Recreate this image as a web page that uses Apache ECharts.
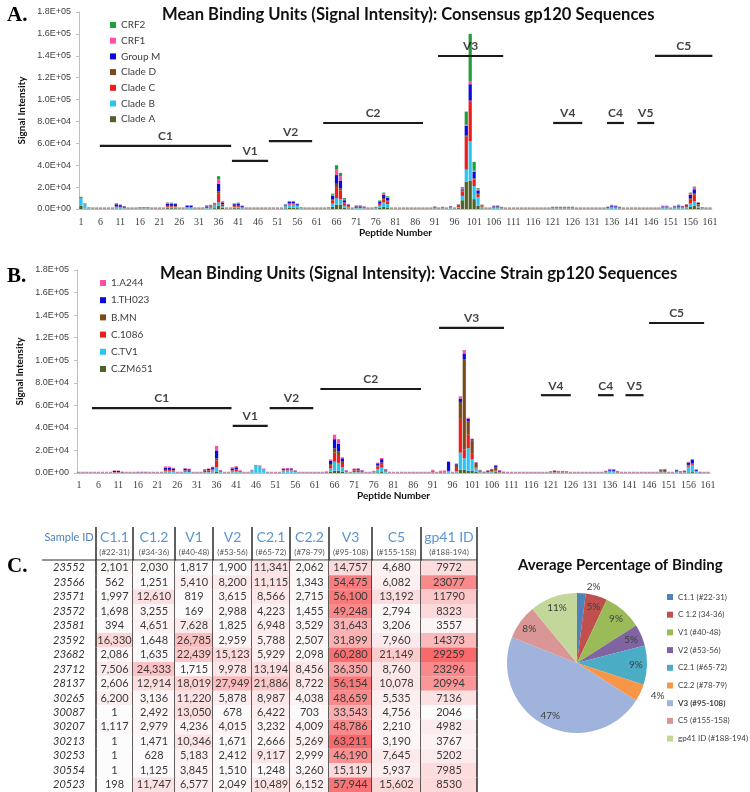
<!DOCTYPE html>
<html>
<head>
<meta charset="utf-8">
<script src="https://cdn.jsdelivr.net/npm/echarts@6/dist/echarts.min.js"></script>
<style>html,body{margin:0;padding:0;background:#fff;}#main{width:750px;height:792px;}</style>
</head>
<body>
<div id="main"></div>
<script>
// ---------- DATA ----------
const peptides = Array.from({length:161},(_,i)=>String(i+1));
// Panel A (values in thousands of signal units)
const cladeA = [3,0.3,0.2,0.2,0.2,0.2,0.2,0.2,0.2,0.5, 0.5,0.3,0.2,0.2,0.2,0.3,0.3,0.3,0.2,0.2, 0.2,0.2,0.8,0.8,0.7,0.2,0.2,0.5,0.5,0.2, 0.2,0.2,0.4,0.5,0.8,3,1,0.2,0.2,0.8, 0.8,0.5,0.2,0.2,0.2,0.2,0.2,0.2,0.2,0.2, 0.2,0.2,0.6,1,1,0.8,0.3,0.2,0.2,0.2, 0.2,0.2,0.2,0.3,2,4,4,1,0.6,0.2, 0.4,0.4,0.3,0.2,0.2,0.3,1,2,1.5,0.2, 0.2,0.2,0.2,0.2,0.2,0.2,0.2,0.2,0.2,0.2, 0.3,0.2,0.3,0.2,0.4,0.2,0.8,8,25,26, 9,3,0.6,0.2,0.2,0.4,0.4,0.3,0.2,0.2, 0.2,0.2,0.2,0.2,0.2,0.2,0.2,0.2,0.2,0.2, 0.3,0.3,0.3,0.3,0.3,0.3,0.2,0.2,0.2,0.2, 0.2,0.2,0.2,0.2,0.3,0.5,0.4,0.3,0.2,0.2, 0.2,0.2,0.2,0.2,0.2,0.2,0.2,0.2,0.4,0.4, 0.2,0.4,0.5,0.4,0.6,2,3,1,0.3,0.2, 0.2];
const cladeB = [7,4,0.5,0.3,0.3,0.3,0.3,0.3,0.3,1, 0.8,0.5,0.3,0.3,0.3,0.4,0.4,0.4,0.3,0.3, 0.3,0.3,1,1,1,0.3,0.3,0.6,0.6,0.3, 0.3,0.3,0.5,0.8,3,3,1.5,0.3,0.3,1, 1,0.6,0.3,0.3,0.3,0.3,0.3,0.3,0.3,0.3, 0.3,0.3,2,3,3,2,0.5,0.3,0.3,0.3, 0.3,0.3,0.3,0.4,3,6,5,2,1,0.3, 0.5,0.5,0.4,0.3,0.3,0.5,2,4,3,0.3, 0.3,0.3,0.3,0.3,0.3,0.3,0.3,0.3,0.3,0.3, 0.4,0.3,0.4,0.3,0.6,0.3,1,4,11,36, 12,8,1,0.3,0.3,0.6,0.6,0.4,0.3,0.3, 0.3,0.3,0.3,0.3,0.3,0.3,0.3,0.3,0.3,0.3, 0.4,0.4,0.4,0.4,0.4,0.4,0.3,0.3,0.3,0.3, 0.3,0.3,0.3,0.3,0.5,0.8,0.6,0.4,0.3,0.3, 0.3,0.3,0.3,0.3,0.3,0.3,0.3,0.3,0.6,0.6, 0.3,0.6,0.8,0.6,1,3,4,1.5,0.4,0.3, 0.3];
const cladeC = [0.3,0.2,0.2,0.2,0.2,0.2,0.2,0.2,0.2,0.5, 0.4,0.3,0.2,0.2,0.2,0.3,0.3,0.3,0.2,0.2, 0.2,0.2,0.7,0.7,0.6,0.2,0.2,0.4,0.4,0.2, 0.2,0.2,1,1,0.4,8,1.5,0.2,0.2,0.7, 0.8,0.5,0.2,0.2,0.2,0.2,0.2,0.2,0.2,0.2, 0.2,0.2,0.5,0.8,0.8,0.6,0.2,0.2,0.2,0.2, 0.2,0.2,0.2,0.3,3,10,8,2,1,0.2, 1.2,1.2,0.8,0.2,0.2,0.4,1.5,3,2.5,0.2, 0.2,0.2,0.2,0.2,0.2,0.2,0.2,0.2,0.2,0.2, 0.6,0.2,0.5,0.2,0.5,0.2,1,4,30,36, 6,2,0.8,0.2,0.2,0.5,0.5,0.4,0.2,0.2, 0.2,0.2,0.2,0.2,0.2,0.2,0.2,0.2,0.2,0.2, 0.3,0.3,0.3,0.3,0.3,0.3,0.2,0.2,0.2,0.2, 0.2,0.2,0.2,0.2,0.3,0.5,0.4,0.3,0.2,0.2, 0.2,0.2,0.2,0.2,0.2,0.2,0.2,0.2,0.5,0.5, 0.2,0.5,0.6,0.5,1,4,6,1.5,0.3,0.2, 0.2];
const cladeD = [0.3,0.2,0.2,0.2,0.2,0.2,0.2,0.2,0.2,0.3, 0.3,0.2,0.2,0.2,0.2,0.2,0.2,0.2,0.2,0.2, 0.2,0.2,0.4,0.4,0.4,0.2,0.2,0.3,0.3,0.2, 0.2,0.2,0.3,0.3,0.3,2,0.5,0.2,0.2,0.4, 0.4,0.3,0.2,0.2,0.2,0.2,0.2,0.2,0.2,0.2, 0.2,0.2,0.3,0.4,0.4,0.3,0.2,0.2,0.2,0.2, 0.2,0.2,0.2,0.2,1,3,2,1,0.4,0.2, 0.3,0.3,0.2,0.2,0.2,0.2,0.5,1,0.8,0.2, 0.2,0.2,0.2,0.2,0.2,0.2,0.2,0.2,0.2,0.2, 0.3,0.2,0.2,0.2,0.3,0.2,0.5,1,1,1, 1,1,0.5,0.2,0.2,0.6,0.8,0.3,0.2,0.2, 0.2,0.2,0.2,0.2,0.2,0.2,0.2,0.2,0.2,0.2, 0.2,0.2,0.2,0.2,0.2,0.2,0.2,0.2,0.2,0.2, 0.2,0.2,0.2,0.2,0.2,0.3,0.3,0.2,0.2,0.2, 0.2,0.2,0.2,0.2,0.2,0.2,0.2,0.2,0.3,0.3, 0.2,0.3,0.3,0.3,0.4,1,1,0.5,0.2,0.2, 0.2];
const groupM = [0.3,0.2,0.2,0.2,0.2,0.2,0.2,0.2,0.2,2, 1.5,1,0.2,0.2,0.2,0.3,0.3,0.3,0.2,0.2, 0.2,0.2,2,2,1.8,0.2,0.2,1.2,1.2,0.2, 0.2,0.2,0.5,0.6,0.6,7,1.5,0.2,0.2,1.5, 2,0.8,0.2,0.2,0.2,0.2,0.2,0.2,0.2,0.2, 0.2,0.2,0.6,1.5,1.5,0.8,0.2,0.2,0.2,0.2, 0.2,0.2,0.2,0.2,3,8,7,2,1,0.2, 0.4,0.4,0.3,0.2,0.2,0.3,2,3,2.5,0.2, 0.2,0.2,0.2,0.2,0.2,0.2,0.2,0.2,0.2,0.2, 0.3,0.2,0.3,0.2,0.5,0.2,0.5,1,9,15, 6,3,0.5,0.2,0.2,0.5,0.5,0.3,0.2,0.2, 0.2,0.2,0.2,0.2,0.2,0.2,0.2,0.2,0.2,0.2, 0.4,0.4,0.4,0.4,0.4,0.4,0.2,0.2,0.2,0.2, 0.2,0.2,0.2,0.2,0.5,1,0.8,0.4,0.2,0.2, 0.2,0.2,0.2,0.2,0.2,0.2,0.2,0.2,0.6,0.6, 0.2,0.6,1,0.6,0.8,3,4,1,0.3,0.2, 0.2];
const crf1 = [0.2,0.2,0.2,0.2,0.2,0.2,0.2,0.2,0.2,1, 0.5,0.3,0.2,0.2,0.2,0.2,0.2,0.2,0.2,0.2, 0.2,0.2,0.8,0.6,0.5,0.2,0.2,0.4,0.4,0.2, 0.2,0.2,0.6,0.5,0.3,4,0.6,0.2,0.2,0.6, 0.6,0.3,0.2,0.2,0.2,0.2,0.2,0.2,0.2,0.2, 0.2,0.2,0.3,0.4,0.4,0.3,0.2,0.2,0.2,0.2, 0.2,0.2,0.2,0.2,1,5,4,1,0.4,0.2, 0.4,0.4,0.3,0.2,0.2,0.2,0.5,1,0.8,0.2, 0.2,0.2,0.2,0.2,0.2,0.2,0.2,0.2,0.2,0.2, 0.4,0.2,0.3,0.2,0.3,0.2,0.3,1,1,3, 1,1,0.3,0.2,0.2,0.3,0.3,0.2,0.2,0.2, 0.2,0.2,0.2,0.2,0.2,0.2,0.2,0.2,0.2,0.2, 0.3,0.3,0.3,0.3,0.3,0.3,0.2,0.2,0.2,0.2, 0.2,0.2,0.2,0.2,0.3,0.5,0.4,0.3,0.2,0.2, 0.2,0.2,0.2,0.2,0.2,0.2,0.2,0.2,0.4,0.4, 0.2,0.3,0.4,0.3,0.4,1,1.5,0.5,0.2,0.2, 0.2];
const crf2 = [0.1,0.1,0.1,0.1,0.1,0.1,0.1,0.1,0.1,0.2, 0.2,0.1,0.1,0.1,0.1,0.1,0.1,0.1,0.1,0.1, 0.1,0.1,0.3,0.3,0.3,0.1,0.1,0.2,0.2,0.1, 0.1,0.1,0.2,0.2,0.2,3,0.4,0.1,0.1,0.3, 0.3,0.2,0.1,0.1,0.1,0.1,0.1,0.1,0.1,0.1, 0.1,0.1,0.2,0.3,0.3,0.2,0.1,0.1,0.1,0.1, 0.1,0.1,0.1,0.1,1,4,3,1,0.3,0.1, 0.2,0.2,0.2,0.1,0.1,0.1,0.4,1,0.6,0.1, 0.1,0.1,0.1,0.1,0.1,0.1,0.1,0.1,0.1,0.1, 0.2,0.1,0.1,0.1,0.2,0.1,0.3,1,12,43, 8,1,0.3,0.1,0.1,0.2,0.2,0.1,0.1,0.1, 0.1,0.1,0.1,0.1,0.1,0.1,0.1,0.1,0.1,0.1, 0.2,0.2,0.2,0.2,0.2,0.2,0.1,0.1,0.1,0.1, 0.1,0.1,0.1,0.1,0.2,0.3,0.3,0.2,0.1,0.1, 0.1,0.1,0.1,0.1,0.1,0.1,0.1,0.1,0.2,0.2, 0.1,0.2,0.3,0.2,0.3,1,1,0.4,0.1,0.1, 0.1];
// Panel B (thousands)
const zm651 = [0.1,0.1,0.1,0.1,0.1,0.1,0.1,0.1,0.1,0.1, 0.1,0.1,0.1,0.1,0.1,0.1,0.1,0.1,0.1,0.1, 0.1,0.1,0.5,0.5,0.3,0.1,0.1,0.3,0.3,0.1, 0.1,0.1,0.2,0.2,0.3,1,0.3,0.1,0.1,0.3, 0.3,0.2,0.1,0.1,0.1,0.3,0.3,0.2,0.1,0.1, 0.1,0.1,0.2,0.3,0.3,0.2,0.1,0.1,0.1,0.1, 0.1,0.1,0.1,0.1,1,2,2,1,0.3,0.1, 0.3,0.3,0.2,0.1,0.1,0.2,0.6,0.8,0.3,0.1, 0.1,0.1,0.1,0.1,0.1,0.1,0.1,0.1,0.1,0.1, 0.2,0.1,0.1,0.1,0.3,0.1,0.5,3,3,2, 2,1,0.3,0.1,0.3,0.4,0.8,0.3,0.1,0.1, 0.1,0.1,0.1,0.1,0.1,0.1,0.1,0.1,0.1,0.1, 0.2,0.2,0.2,0.2,0.2,0.1,0.1,0.1,0.1,0.1, 0.1,0.1,0.1,0.1,0.2,0.3,0.3,0.2,0.1,0.1, 0.1,0.1,0.1,0.1,0.1,0.1,0.1,0.1,0.3,0.3, 0.1,0.1,0.2,0.1,0.2,0.6,0.8,0.3,0.1,0.1, 0.1];
const ctv1 = [0.2,0.2,0.2,0.2,0.2,0.2,0.2,0.2,0.2,0.3, 0.3,0.2,0.2,0.2,0.2,0.2,0.2,0.2,0.2,0.2, 0.2,0.2,1,1,1,0.2,0.2,0.8,0.6,0.2, 0.2,0.2,0.5,0.6,2,4,0.6,0.2,0.2,1, 1,0.5,0.2,0.2,2,6,5.5,3,0.2,0.2, 0.2,0.2,2,2,2,0.8,0.2,0.2,0.2,0.2, 0.2,0.2,0.2,0.2,3,8,7,4,0.5,0.2, 0.5,0.5,0.4,0.2,0.2,0.4,3,4,1,0.2, 0.2,0.2,0.2,0.2,0.2,0.2,0.2,0.2,0.2,0.2, 0.3,0.2,0.2,0.2,1,0.2,1,15,10,20, 10,3,0.5,0.2,0.3,0.5,0.8,0.3,0.2,0.2, 0.2,0.2,0.2,0.2,0.2,0.2,0.2,0.2,0.2,0.2, 0.3,0.4,0.3,0.3,0.3,0.2,0.2,0.2,0.2,0.2, 0.2,0.2,0.2,0.2,0.5,1,0.8,0.3,0.2,0.2, 0.2,0.2,0.2,0.2,0.2,0.2,0.2,0.2,0.4,0.4, 0.2,0.2,0.6,0.3,0.5,5,6,1,0.2,0.2, 0.2];
const c1086 = [0.2,0.2,0.2,0.2,0.2,0.2,0.2,0.2,0.2,0.3, 0.3,0.2,0.2,0.2,0.2,0.2,0.2,0.2,0.2,0.2, 0.2,0.2,1,1,1,0.2,0.2,1,1,0.2, 0.2,0.2,1.5,1.5,1,6,0.5,0.2,0.2,1, 1.5,0.5,0.2,0.2,0.2,0.2,0.2,0.2,0.2,0.2, 0.2,0.2,0.4,0.5,0.5,0.3,0.2,0.2,0.2,0.2, 0.2,0.2,0.2,0.3,3,8,7,3,0.5,0.2, 1.5,1.5,1,0.2,0.2,0.4,2,3,0.8,0.2, 0.2,0.2,0.2,0.2,0.2,0.2,0.2,0.2,0.2,0.2, 1,0.2,0.8,0.2,0.3,0.2,3,30,8,12, 5,1,0.4,0.2,0.3,0.4,0.6,0.3,0.2,0.2, 0.2,0.2,0.2,0.2,0.2,0.2,0.2,0.2,0.2,0.2, 0.3,0.3,0.3,0.3,0.3,0.2,0.2,0.2,0.2,0.2, 0.2,0.2,0.2,0.2,0.3,0.5,0.5,0.3,0.2,0.2, 0.2,0.2,0.2,0.2,0.2,0.2,0.2,0.2,0.8,1, 0.2,0.2,0.4,0.3,0.3,1,1,0.3,0.2,0.2, 0.2];
const bmn = [0.1,0.1,0.1,0.1,0.1,0.1,0.1,0.1,0.1,0.1, 0.1,0.1,0.1,0.1,0.1,0.1,0.1,0.1,0.1,0.1, 0.1,0.1,0.3,0.3,0.3,0.1,0.1,0.3,0.3,0.1, 0.1,0.1,0.3,0.3,0.3,2,0.3,0.1,0.1,0.3, 0.3,0.2,0.1,0.1,0.1,0.1,0.1,0.1,0.1,0.1, 0.1,0.1,0.2,0.2,0.2,0.2,0.1,0.1,0.1,0.1, 0.1,0.1,0.1,0.2,1,4,3,2,0.3,0.1, 0.8,0.5,0.3,0.1,0.1,0.2,1,1.5,0.4,0.1, 0.1,0.1,0.1,0.1,0.1,0.1,0.1,0.1,0.1,0.1, 0.2,0.1,0.2,0.1,0.3,0.1,3,15,80,12, 12,4,1,0.3,1,1.5,3,1,0.3,0.1, 0.1,0.1,0.1,0.1,0.1,0.1,0.1,0.1,0.1,0.1, 0.2,0.2,0.2,0.2,0.2,0.1,0.1,0.1,0.1,0.1, 0.1,0.1,0.1,0.1,0.2,0.3,0.3,0.2,0.1,0.1, 0.1,0.1,0.1,0.1,0.1,0.1,0.1,0.1,1,1, 0.1,0.1,0.3,0.2,0.3,0.6,0.8,0.3,0.1,0.1, 0.1];
const th023 = [0.1,0.1,0.1,0.1,0.1,0.1,0.1,0.1,0.1,1, 1,0.3,0.1,0.1,0.1,0.2,0.2,0.2,0.1,0.1, 0.1,0.1,2,2,1.5,0.1,0.1,1.5,1.2,0.1, 0.1,0.1,0.6,1,1.5,7,0.5,0.1,0.1,1.5, 2,0.5,0.1,0.1,0.1,0.2,0.2,0.1,0.1,0.1, 0.1,0.1,1,1,1,0.5,0.1,0.1,0.1,0.1, 0.1,0.1,0.1,0.2,3,8,7,3,0.5,0.1, 0.5,1,0.4,0.1,0.1,0.3,2,3,0.6,0.1, 0.1,0.1,0.1,0.1,0.1,0.1,0.1,0.1,0.1,0.1, 0.2,0.1,0.2,0.1,8,0.1,0.5,3,5,2, 1,0.3,0.2,0.1,0.3,0.5,1.5,0.3,0.1,0.1, 0.1,0.1,0.1,0.1,0.1,0.1,0.1,0.1,0.1,0.1, 0.3,0.8,0.4,0.4,0.3,0.1,0.1,0.1,0.1,0.1, 0.1,0.1,0.1,0.1,0.4,1,1,0.4,0.1,0.1, 0.1,0.1,0.1,0.1,0.1,0.1,0.1,0.1,0.4,0.4, 0.1,0.1,1,0.4,0.5,2,3,1,0.2,0.1, 0.1];
const a244 = [0.4,0.4,0.4,0.4,0.4,0.4,0.4,0.4,0.4,0.6, 0.5,0.4,0.4,0.4,0.4,0.4,0.4,0.4,0.4,0.4, 0.4,0.4,1,1,0.6,0.4,0.4,0.6,0.5,0.4, 0.4,0.4,0.5,0.5,0.5,4,0.5,0.4,0.4,1, 1,0.5,0.4,0.4,0.4,0.4,0.4,0.4,0.4,0.4, 0.4,0.4,0.5,0.5,0.5,0.4,0.4,0.4,0.4,0.4, 0.4,0.4,0.4,0.5,1,4,4,1,0.5,0.4, 0.5,0.5,0.4,0.4,0.4,0.4,0.6,1,0.5,0.4, 0.4,0.4,0.4,0.4,0.4,0.4,0.4,0.4,0.4,0.4, 1,0.4,0.5,1.5,0.5,0.4,0.5,2,3,1, 0.5,0.4,0.4,0.4,0.4,0.4,0.5,0.4,0.4,0.4, 0.4,0.4,0.4,0.4,0.4,0.4,0.4,0.4,0.4,0.4, 0.5,0.6,0.5,0.5,0.5,0.4,0.4,0.4,0.4,0.4, 0.4,0.4,0.4,0.4,0.5,0.6,0.6,0.5,0.4,0.4, 0.4,0.4,0.4,0.4,0.4,0.4,0.4,0.4,0.6,0.6, 0.4,0.4,0.5,0.4,0.5,0.8,0.8,0.5,0.4,0.4, 0.4];

// Region bars (peptide spans, level in thousands)
const regNames = ['C1','V1','V2','C2','V3','V4','C4','V5','C5'];
const regStartA = [5.8,39.4,48.8,62.6,91.8,121.1,134.8,142.5,147];
const regEndA   = [39.2,48.6,59.8,88,108.4,128.5,139.1,146.8,161.6];
const regLevelA = [57.6,43.9,62,78.6,139.8,78.6,78.6,78.6,140];
const regStartB = [4.3,40.1,49.5,62.4,92.6,118.5,133,140,146];
const regEndB   = [39.8,49,60.6,88,109.1,126.1,137,144.6,160];
const regLevelB = [57.6,41.7,57.6,74.5,128.6,69,69,69,133];

// Table
const sampleIds = ['23552','23566','23571','23572','23581','23592','23682','23712','28137','30265','30087','30207','30213','30253','30554','20523'];
const colNames  = ['Sample ID','C1.1','C1.2','V1','V2','C2.1','C2.2','V3','C5','gp41 ID'];
const colRanges = ['','(#22-31)','(#34-36)','(#40-48)','(#53-56)','(#65-72)','(#78-79)','(#95-108)','(#155-158)','(#188-194)'];
const c11  = [2101,562,1997,1698,394,16330,2086,7506,2606,6200,1,1117,1,1,1,198];
const c12  = [2030,1251,12610,3255,4651,1648,1635,24333,12914,3136,2492,2979,1471,628,1125,11747];
const v1   = [1817,5410,819,169,7628,26785,22439,1715,18019,11220,13050,4236,10346,5183,3845,6577];
const v2   = [1900,8200,3615,2988,1825,2959,15123,9978,27949,5878,678,4015,1671,2412,1510,2049];
const c21  = [11341,11115,8566,4223,6948,5788,5929,13194,21886,8987,6422,3232,2666,9117,1248,10489];
const c22  = [2062,1343,2715,1455,3529,2507,2098,8456,8722,4038,703,4009,5269,2999,3260,6152];
const v3   = [14757,54475,56100,49248,31643,31899,60280,36350,56154,48659,33543,48786,63211,46190,15119,57944];
const c5   = [4680,6082,13192,2794,3206,7960,21149,8760,10078,5535,4756,2210,3190,7645,5937,15602];
const gp41 = [7972,23077,11790,8323,3557,14373,29259,23296,20994,7136,2046,4982,3767,5202,7985,8530];

// Pie
const pieNames  = ['C1.1 (#22-31)','C 1.2 (34-36)','V1 (#40-48)','V2 (#53-56)','C2.1 (#65-72)','C2.2 (#78-79)','V3 (#95-108)','C5 (#155-158)','gp41 ID (#188-194)'];
const pieValues = [2,5,9,5,9,4,47,8,11];

// ---------- STYLE / LAYOUT ----------
const aNames  = ['Clade A','Clade B','Clade C','Clade D','Group M','CRF1','CRF2'];
const aSeries = [cladeA,cladeB,cladeC,cladeD,groupM,crf1,crf2];
const aColors = ['#4f6228','#2ec4f2','#ee1c1c','#7a4a1c','#0a0ae0','#ff4fa8','#1f9e3c'];
const bNames  = ['C.ZM651','C.TV1','C.1086','B.MN','1.TH023','1.A244'];
const bSeries = [zm651,ctv1,c1086,bmn,th023,a244];
const bColors = ['#4f6228','#2ec4f2','#ee1c1c','#7a4a1c','#0a0ae0','#ff4fa8'];
const pieColors = ['#4f81bd','#c0504d','#9bbb59','#8064a2','#4bacc6','#f79646','#9fb3dc','#d99694','#c4d79b'];
const colEdges = [42,96,133,175,213,252,290,329,372,421,477];

function sci(v){
  const n = Math.round(v*1000);
  if (n === 0) return '0.0E+00';
  const e = Math.floor(Math.log10(n) + 1e-9);
  const m = n/Math.pow(10,e);
  return m.toFixed(1)+'E+'+String(e).padStart(2,'0');
}

const series = [];
aSeries.forEach((d,i)=>series.push({type:'bar',name:aNames[i],stack:'A',xAxisIndex:0,yAxisIndex:0,data:d,
  itemStyle:{color:aColors[i]},barCategoryGap:'18%',silent:true}));
bSeries.forEach((d,i)=>series.push({type:'bar',name:bNames[i],stack:'B',xAxisIndex:2,yAxisIndex:1,data:d,
  itemStyle:{color:bColors[i]},barCategoryGap:'18%',silent:true}));

function addRegions(tag, xi, yi, st, en, lv){
  regNames.forEach((n,i)=>{
    series.push({type:'line',name:tag+n,xAxisIndex:xi,yAxisIndex:yi,data:[[st[i],lv[i]],[en[i],lv[i]]],
      symbol:'none',clip:false,silent:true,lineStyle:{color:'#1a1a1a',width:2.2},z:5});
  });
  series.push({type:'scatter',name:tag+'labels',xAxisIndex:xi,yAxisIndex:yi,silent:true,symbolSize:1,
    itemStyle:{color:'rgba(0,0,0,0)'},
    data:regNames.map((n,i)=>[(st[i]+en[i])/2,lv[i],n]),
    label:{show:true,position:'top',distance:3,formatter:p=>p.data[2],fontFamily:'Lato',fontWeight:'bold',fontSize:12,color:'#111'},z:6});
}
addRegions('rA',1,0,regStartA,regEndA,regLevelA);
addRegions('rB',3,1,regStartB,regEndB,regLevelB);

// header
series.push({type:'custom',name:'header',xAxisIndex:4,yAxisIndex:2,silent:true,
  data:colNames.map((_,i)=>[i]),
  renderItem:function(params,api){
    const i = api.value(0);
    const x0 = api.coord([colEdges[i],0])[0], x1 = api.coord([colEdges[i+1],0])[0];
    const cs = params.coordSys; const top = cs.y, bot = cs.y+cs.height;
    const mid=(x0+x1)/2; const ch=[];
    if (i===0){
      ch.push({type:'text',style:{text:colNames[i],x:mid,y:top+10,align:'center',verticalAlign:'middle',fontFamily:'Lato',fontSize:11,fill:'#4f81bd'}});
    } else {
      ch.push({type:'text',style:{text:colNames[i],x:mid,y:top+10,align:'center',verticalAlign:'middle',fontFamily:'Lato',fontSize:14,fill:'#5b95d0'}});
      ch.push({type:'text',style:{text:colRanges[i],x:mid,y:top+25,align:'center',verticalAlign:'middle',fontFamily:'Lato',fontSize:8,fill:'#555'}});
    }
    ch.push({type:'line',shape:{x1:x1,y1:top,x2:x1,y2:bot},style:{stroke:'#2a2a2a',lineWidth:1.5}});
    ch.push({type:'line',shape:{x1:x0,y1:bot-1,x2:x1,y2:bot-1},style:{stroke:'#2a2a2a',lineWidth:1}});
    return {type:'group',children:ch};
  }});

function cellRender(useComma){
  return function(params,api){
    const c = api.value(0), r = api.value(1), v = api.value(2);
    const p0 = api.coord([colEdges[c],r]);
    const x0 = p0[0], x1 = api.coord([colEdges[c+1],r])[0], cy = p0[1];
    const h = api.size([0,1])[1];
    const ch = [
      {type:'rect',shape:{x:x0,y:cy-h/2,width:x1-x0,height:h},style:{fill:api.visual('color')}},
      {type:'text',style:{text:useComma?v.toLocaleString('en-US'):String(v),x:(x0+x1)/2,y:cy,align:'center',verticalAlign:'middle',fontFamily:'Lato',fontSize:11,fill:'#3a3a3a'}},
      {type:'line',shape:{x1:x1,y1:cy-h/2,x2:x1,y2:cy+h/2},style:{stroke:'#2a2a2a',lineWidth:1.5}}
    ];
    if (c===1) ch.push({type:'line',shape:{x1:x0,y1:cy-h/2,x2:x0,y2:cy+h/2},style:{stroke:'#2a2a2a',lineWidth:1.5}});
    return {type:'group',children:ch};
  };
}
const mainCols = [c11,c12,v1,v2,c21,c22,v3,c5];
const mainData = [];
mainCols.forEach((col,ci)=>col.forEach((v,r)=>mainData.push([ci+1,r,v])));
const idxMain = series.length;
series.push({type:'custom',name:'tableMain',xAxisIndex:5,yAxisIndex:3,silent:true,data:mainData,renderItem:cellRender(true)});
const idxGp = series.length;
series.push({type:'custom',name:'tableGp',xAxisIndex:5,yAxisIndex:3,silent:true,data:gp41.map((v,r)=>[9,r,v]),renderItem:cellRender(false)});

// pie
const pieData = pieNames.map((n,i)=>({name:n,value:pieValues[i],itemStyle:{color:pieColors[i]}}));
series.push({type:'pie',name:'pie',center:[577,663],radius:70,startAngle:90,silent:true,label:{show:false},labelLine:{show:false},data:pieData});
series.push({type:'pie',name:'pieLabels',center:[577,663],radius:[42,70],startAngle:90,silent:true,
  itemStyle:{color:'rgba(0,0,0,0)'},
  labelLine:{show:false,length:6,length2:0},
  data:pieNames.map((n,i)=>({name:n,value:pieValues[i],label:{position:pieValues[i]<5?'outside':'inside'}})),
  label:{show:true,formatter:p=>p.value+'%',fontFamily:'Lato',fontSize:10,color:'#404040'}});

const valAxisCommon = {type:'value',min:0,max:180,interval:20,
  axisLabel:{formatter:sci,fontFamily:'Liberation Sans',fontSize:9,color:'#404040',margin:8},
  axisLine:{show:true,lineStyle:{color:'#bfbfbf'}},axisTick:{show:true,length:3,lineStyle:{color:'#bfbfbf'}},
  splitLine:{show:false},name:'Signal Intensity',nameLocation:'middle',nameRotate:90,
  nameTextStyle:{fontFamily:'Lato',fontWeight:'bold',fontSize:10,color:'#111'}};
const catAxisCommon = {type:'category',data:peptides,
  axisLabel:{interval:4,fontFamily:'Liberation Serif',fontSize:10,color:'#404040'},
  axisLine:{lineStyle:{color:'#bfbfbf'}},axisTick:{show:false},
  name:'Peptide Number',nameLocation:'middle',nameTextStyle:{fontFamily:'Lato',fontWeight:'bold',fontSize:10,color:'#111'}};

const option = {
  animation:false,
  textStyle:{fontFamily:'Lato'},
  title:[
    {text:'A.',left:2,top:0,textStyle:{fontFamily:'Liberation Serif',fontWeight:'bold',fontSize:21,color:'#000'}},
    {text:'Mean Binding Units (Signal Intensity): Consensus gp120 Sequences',left:157,top:1,textStyle:{fontFamily:'Lato',fontWeight:'bold',fontSize:16.6,color:'#111'}},
    {text:'B.',left:2,top:261,textStyle:{fontFamily:'Liberation Serif',fontWeight:'bold',fontSize:21,color:'#000'}},
    {text:'Mean Binding Units (Signal Intensity): Vaccine Strain gp120 Sequences',left:155,top:260,textStyle:{fontFamily:'Lato',fontWeight:'bold',fontSize:16.6,color:'#111'}},
    {text:'C.',left:2,top:551,textStyle:{fontFamily:'Liberation Serif',fontWeight:'bold',fontSize:21,color:'#000'}},
    {text:'Average Percentage of Binding',left:513,top:553,textStyle:{fontFamily:'Lato',fontWeight:'bold',fontSize:15,color:'#111'}}
  ],
  legend:[
    {data:aNames.slice().reverse(),orient:'vertical',left:105,top:14,itemWidth:6,itemHeight:6,itemGap:3.7,icon:'rect',
      textStyle:{fontFamily:'Lato',fontSize:10,color:'#404040',lineHeight:12},selectedMode:false},
    {data:bNames.slice().reverse(),orient:'vertical',left:95,top:272,itemWidth:6,itemHeight:6,itemGap:5.2,icon:'rect',
      textStyle:{fontFamily:'Lato',fontSize:10,color:'#404040',lineHeight:12},selectedMode:false},
    {data:pieNames.map(n=>n.indexOf('V3')===0?{name:n,textStyle:{fontWeight:'bold'}}:n),orient:'vertical',left:662,top:586,
      itemWidth:6,itemHeight:6,itemGap:5.7,icon:'rect',textStyle:{fontFamily:'Lato',fontSize:8,color:'#404040',lineHeight:12},selectedMode:false}
  ],
  grid:[
    {left:79,top:12,width:633,height:197},
    {left:77,top:270,width:633,height:203},
    {left:42,top:527,width:435,height:34},
    {left:96,top:560.7,width:381,height:232.5}
  ],
  xAxis:[
    Object.assign({},catAxisCommon,{gridIndex:0,nameGap:19,axisLabel:Object.assign({},catAxisCommon.axisLabel,{margin:8})}),
    {type:'value',gridIndex:0,min:0.5,max:161.5,show:false},
    Object.assign({},catAxisCommon,{gridIndex:1,nameGap:16,axisLabel:Object.assign({},catAxisCommon.axisLabel,{margin:7})}),
    {type:'value',gridIndex:1,min:0.5,max:161.5,show:false},
    {type:'value',gridIndex:2,min:42,max:477,show:false},
    {type:'value',gridIndex:3,min:96,max:477,show:false}
  ],
  yAxis:[
    Object.assign({},valAxisCommon,{gridIndex:0,nameGap:44}),
    Object.assign({},valAxisCommon,{gridIndex:1,nameGap:47}),
    {type:'value',gridIndex:2,min:0,max:1,show:false},
    {type:'category',gridIndex:3,data:sampleIds,inverse:true,axisLine:{show:false},axisTick:{show:false},splitLine:{show:false},
      axisLabel:{align:'center',margin:27,fontStyle:'italic',fontFamily:'Lato',fontSize:11,color:'#333'}}
  ],
  visualMap:[
    {type:'continuous',show:false,seriesIndex:idxMain,dimension:2,min:1,max:63211,inRange:{color:['#fdfcfd','#f8696b']}},
    {type:'continuous',show:false,seriesIndex:idxGp,dimension:2,min:2046,max:29259,inRange:{color:['#fdfcfd','#f8696b']}}
  ],
  series:series
};
const chart = echarts.init(document.getElementById('main'),null,{renderer:'canvas'});
chart.setOption(option);
</script>
</body>
</html>
